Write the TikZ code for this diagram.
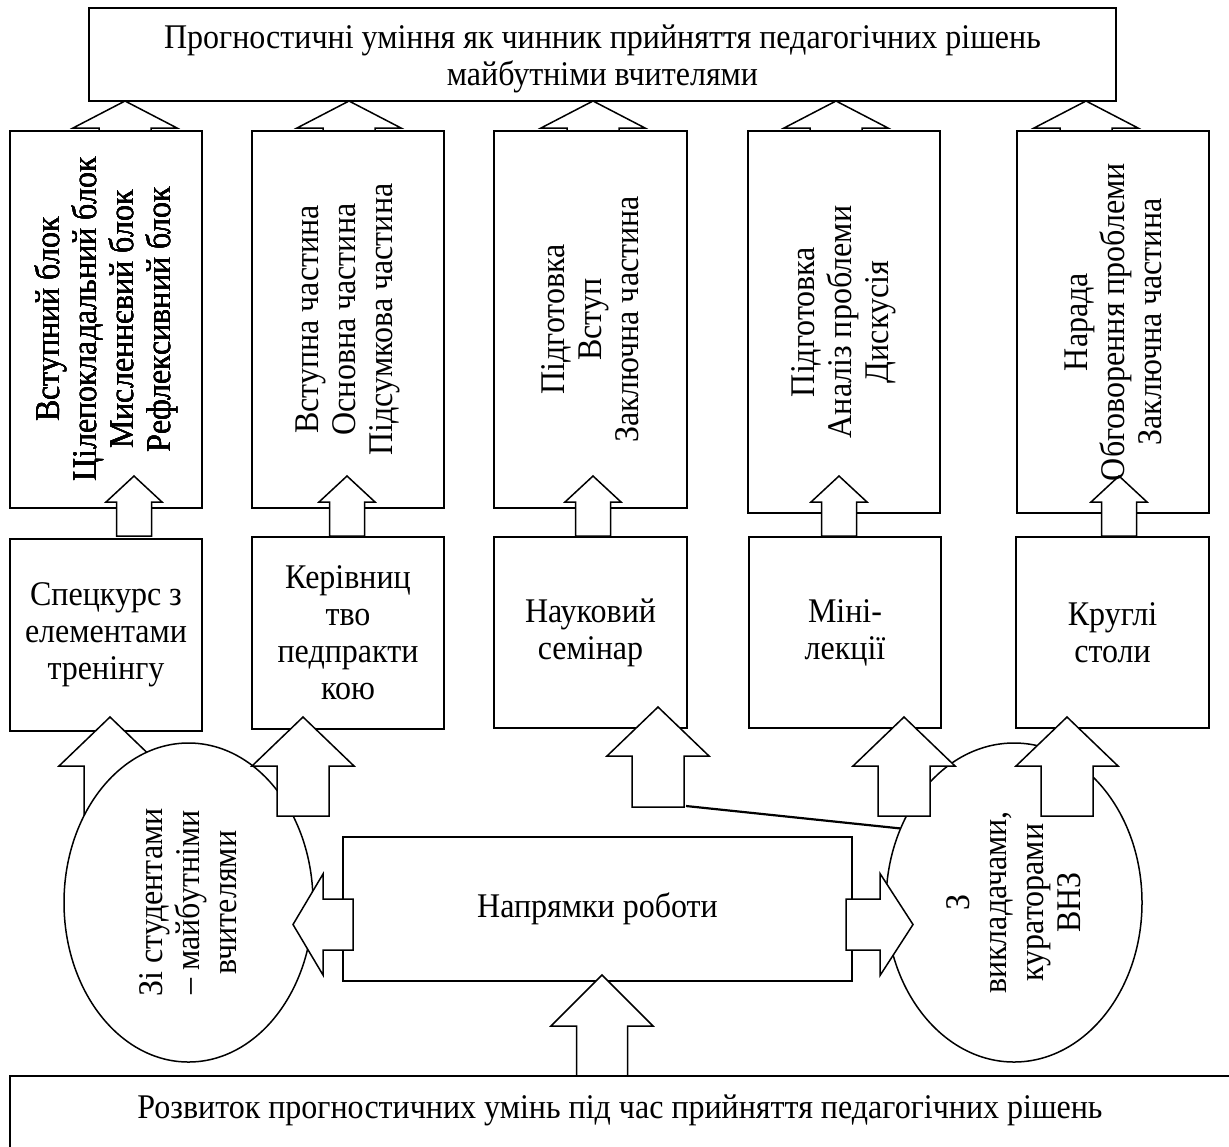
\documentclass[tikz,border=0pt]{standalone}
\usepackage{fontspec}
\setmainfont[FakeStretch=0.925]{Liberation Serif}
\usetikzlibrary{shapes.geometric}

\tikzset{
  box/.style={draw, line width=0.75pt, fill=white, inner sep=0pt, align=center},
  blk/.style={draw, line width=0.75pt, fill=white},
  oval/.style={ellipse, draw, line width=0.75pt, fill=white, inner sep=0pt},
  vtext/.style={rotate=90, align=center},
}
% block arrow, vertical: x, tip, head base, end, head half, shaft half
\newcommand{\varr}[6]{\draw[blk] (#1,#2) -- (#1+#5,#3) -- (#1+#6,#3) -- (#1+#6,#4)
  -- (#1-#6,#4) -- (#1-#6,#3) -- (#1-#5,#3) -- cycle;}
% block arrow, horizontal: y, tip, head base, end, head half, shaft half
\newcommand{\harr}[6]{\draw[blk] (#2,#1) -- (#3,#1+#5) -- (#3,#1+#6) -- (#4,#1+#6)
  -- (#4,#1-#6) -- (#3,#1-#6) -- (#3,#1-#5) -- cycle;}

\begin{document}
\begin{tikzpicture}[x=0.5pt, y=-0.5pt, font=\fontsize{17.3}{18.5}\selectfont]
\useasboundingbox (0,0) rectangle (1229,1146);
\clip (0,0) rectangle (1229,1146);

% arrows into the top box
\foreach \x in {125,349,593,836,1086}
    \varr{\x}{101}{128}{140}{52}{26}
\node[box, minimum width=513.5pt, minimum height=46.5pt] (goal) at (602.5,54.5) {};
\node[align=center] at (602.5,59) {Прогностичні уміння як чинник прийняття педагогічних рішень\\майбутніми вчителями};

% stages
\node[box, minimum width=96pt, minimum height=188.5pt] (u1) at (106,319.5) {};
\node[box, minimum width=96pt, minimum height=188.5pt] (u2) at (348,319.5) {};
\node[box, minimum width=96.5pt, minimum height=188.5pt] (u3) at (590.5,319.5) {};
\node[box, minimum width=96pt, minimum height=191pt] (u4) at (844,322) {};
\node[box, minimum width=96pt, minimum height=191pt] (u5) at (1113,322) {};
\foreach \x in {134,347,593,839,1119}
    \varr{\x}{476}{502}{536}{28}{17.5}
\node[vtext] at (u1) {Вступний блок\\Цілепокладальний блок\\Мисленнєвий блок\\Рефлексивний блок};
\node[vtext] at (u2) {Вступна частина\\Основна частина\\Підсумкова частина};
\node[vtext] at (u3) {Підготовка\\Вступ\\Заключна частина};
\node[vtext] at (u4) {Підготовка\\Аналіз проблеми\\Дискусія};
\node[vtext] at (u5) {Нарада\\Обговорення проблеми\\Заключна частина};

% forms of work
\node[box, minimum width=96pt, minimum height=96pt] (l1) at (106,635) {Спецкурс з\\елементами\\тренінгу};
\node[box, minimum width=96pt, minimum height=96pt] (l2) at (348,633) {Керівниц\\тво\\педпракти\\кою};
\node[box, minimum width=96.5pt, minimum height=95.5pt] (l3) at (590.5,632.5) {Науковий\\семінар};
\node[box, minimum width=96pt, minimum height=95.5pt] (l4) at (845,632.5) {Міні-\\лекції};
\node[box, minimum width=96.5pt, minimum height=95.5pt] (l5) at (1112.5,632.5) {Круглі\\столи};

\node[box, minimum width=254.5pt, minimum height=72pt] (napr) at (597.5,909) {Напрямки роботи};

\varr{110}{717}{766}{816}{51}{26}
\node[oval, minimum width=124.5pt, minimum height=159.5pt] (studs) at (188.5,902.5) {};
\node[vtext] at (studs) {Зі студентами\\– майбутніми\\вчителями};
\varr{303}{717}{766}{816}{51}{26}
\varr{658}{707}{756}{807}{51}{26}

\node[oval, minimum width=128pt, minimum height=159.5pt] (teach) at (1014,902.5) {};
\node[vtext] at (teach) {З\\викладачами,\\кураторами\\ВНЗ};
\coordinate (a3) at (686,806);
\draw[line width=1.1pt] (a3) -- (teach.147);
\varr{904}{717}{766}{816}{51}{26}
\varr{1067}{717}{766}{816}{51}{26}

\harr{924.5}{293}{323}{353}{50.5}{25.5}
\harr{924.5}{913}{880}{846}{51}{25.5}

% base
\varr{602}{975}{1026}{1076}{51}{25.5}
\node[box, minimum width=620pt, minimum height=42pt] (dev) at (630,1118) {};
\node at (620,1110) {Розвиток прогностичних умінь під час прийняття педагогічних рішень};
\end{tikzpicture}
\end{document}
